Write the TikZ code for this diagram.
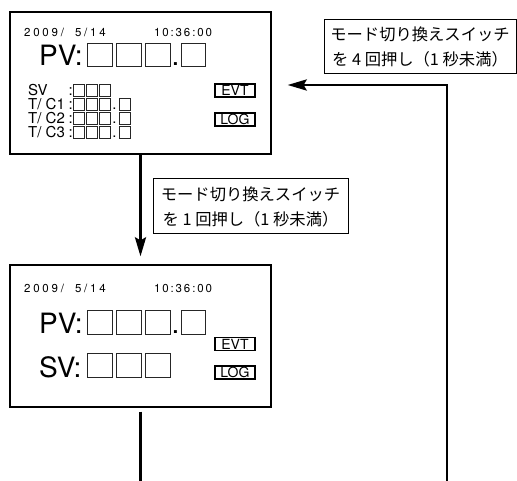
\documentclass[tikz,border=0pt]{standalone}
\usepackage{fontspec}
\setmainfont{TeX Gyre Heros}
\newfontfamily\jp{Noto Sans CJK JP}
\usetikzlibrary{arrows.meta}
\begin{document}
\begin{tikzpicture}[x=1pt,y=-1pt,
  frame/.style={draw, line width=1.3pt, minimum width=261pt, minimum height=142pt, inner sep=0pt},
  lbl/.style={draw, line width=1pt, inner sep=0pt, font=\jp\fontsize{16.3}{25}\selectfont, align=center},
  tagbox/.style={draw, line width=1.1pt, minimum width=40pt, minimum height=13pt, inner sep=0pt, font=\fontsize{14}{14}\selectfont},
  txt/.style={anchor=base west, inner sep=0pt},
  dt/.style={txt, font=\fontsize{11.5}{11.5}\selectfont\addfontfeature{LetterSpace=24}},
  tm/.style={txt, font=\fontsize{11.5}{11.5}\selectfont\addfontfeature{LetterSpace=16}},
  big/.style={txt, font=\fontsize{28}{28}\selectfont},
  small/.style={txt, font=\fontsize{15}{15}\selectfont},
  conn/.style={line width=2.8pt},
  arr/.style={conn, -{Stealth[length=19pt,width=11pt,inset=3pt]}},
  sq/.style={draw=black!85, line width=0.9pt}
]
\useasboundingbox (0,0) rectangle (517,481);

% display frames
\node[frame] (d1) at (140.5,83) {};
\node[frame] (d2) at (140.5,336) {};

% labels
\node[lbl, minimum width=192pt, minimum height=54pt] (l1) at (420,47) {モード切り換えスイッチ\\を 4 回押し（1 秒未満）};
\node[lbl, minimum width=195pt, minimum height=55pt] (l2) at (250.5,206.5) {モード切り換えスイッチ\\を 1 回押し（1 秒未満）};

% ---- display 1 ----
\node[dt] (t1a) at (24,37) {2009/\hspace{11pt}5/14};
\node[tm] (t1b) at (154,37) {10:36\hspace{2pt}:00};
\node[big] (pv1) at (39,66) {PV:};
\foreach \a/\b in {87/112,116/141,145/170,181/205}
  \draw[sq] (\a,43) rectangle (\b,66);
\node[anchor=base, inner sep=0pt, font=\fontsize{28}{28}\selectfont] (dp1) at (175.5,66) {.};
\node[small] (s1) at (28,96) {SV};
\node[small] (s2) at (28,110) {T/ C1};
\node[small] (s3) at (28,124) {T/ C2};
\node[small] (s4) at (28,138) {T/ C3};
\foreach \y in {96,110,124,138}
  \node[small] at (68.5,\y) {:};
\foreach \a/\b in {73/84,86/97,99/110}
  \draw[sq] (\a,84) rectangle (\b,96);
\foreach \t in {98,112,126}{
  \foreach \a/\b in {73/84,86/97,99/110,119/130}
    \draw[sq] (\a,\t) rectangle (\b,\t+12);
  \node[anchor=base, inner sep=0pt, font=\fontsize{15}{15}\selectfont] at (114.5,\t+12) {.};
}
\node[tagbox] (evt1) at (235,90.5) {EVT};
\node[tagbox] (log1) at (235,119.5) {LOG};

% ---- display 2 ----
\node[dt] (t2a) at (24,292) {2009/\hspace{11pt}5/14};
\node[tm] (t2b) at (154,292) {10:36\hspace{2pt}:00};
\node[big] (pv2) at (39,334) {PV:};
\foreach \a/\b in {87/112,116/141,145/170,181/205}
  \draw[sq] (\a,310) rectangle (\b,334);
\node[anchor=base, inner sep=0pt, font=\fontsize{28}{28}\selectfont] (dp2) at (175.5,334) {.};
\node[big] (sv2) at (39,377) {SV:};
\foreach \a/\b in {87/112,116/141,145/170}
  \draw[sq] (\a,353) rectangle (\b,377);
\node[tagbox] (evt2) at (235,344) {EVT};
\node[tagbox] (log2) at (235,372.5) {LOG};

% ---- connectors ----
\draw[arr, shorten >=8pt] (d1.south) -- (d2.north);
\coordinate (e1) at (140.5,481);
\draw[conn] ([yshift=-4pt]d2.south) -- (e1);
\coordinate (e2) at (447,481);
\coordinate (c2) at (447,85);
\draw[arr, shorten >=16pt, line join=miter] (e2) -- (c2) -- (c2 -| d1.east);
\end{tikzpicture}
\end{document}
